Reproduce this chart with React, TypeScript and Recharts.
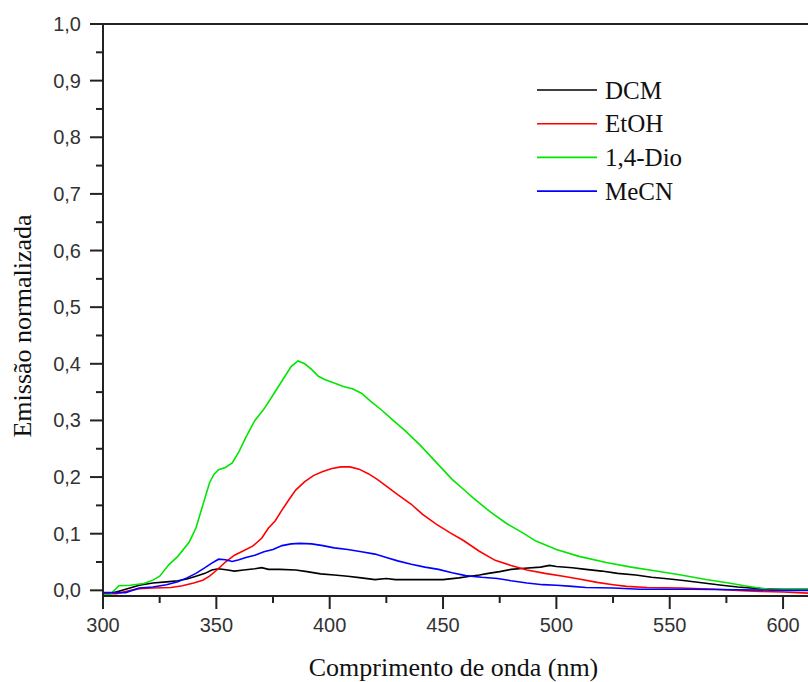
import React from 'react';
import { LineChart, Line, XAxis, YAxis, ReferenceLine, Legend } from 'recharts';

// Emissão normalizada vs comprimento de onda (nm), four solvents
const dcmData = [
  { nm: 300, v: -0.006 }, { nm: 305, v: -0.004 }, { nm: 310, v: 0.002 }, { nm: 316, v: 0.009 },
  { nm: 322, v: 0.013 }, { nm: 328, v: 0.015 }, { nm: 333, v: 0.017 }, { nm: 337, v: 0.02 },
  { nm: 341, v: 0.025 }, { nm: 345, v: 0.03 }, { nm: 348, v: 0.036 }, { nm: 351, v: 0.038 },
  { nm: 355, v: 0.036 }, { nm: 358, v: 0.034 }, { nm: 362, v: 0.036 }, { nm: 367, v: 0.038 },
  { nm: 370, v: 0.04 }, { nm: 373, v: 0.037 }, { nm: 378, v: 0.037 }, { nm: 385, v: 0.036 },
  { nm: 390, v: 0.033 }, { nm: 396, v: 0.029 }, { nm: 402, v: 0.027 }, { nm: 408, v: 0.025 },
  { nm: 414, v: 0.022 }, { nm: 420, v: 0.019 }, { nm: 425, v: 0.021 }, { nm: 429, v: 0.019 },
  { nm: 440, v: 0.019 }, { nm: 450, v: 0.019 }, { nm: 457, v: 0.022 }, { nm: 462, v: 0.025 },
  { nm: 466, v: 0.027 }, { nm: 470, v: 0.03 }, { nm: 475, v: 0.033 }, { nm: 480, v: 0.037 },
  { nm: 486, v: 0.039 }, { nm: 493, v: 0.041 }, { nm: 497, v: 0.044 }, { nm: 500, v: 0.042 },
  { nm: 507, v: 0.04 }, { nm: 513, v: 0.037 }, { nm: 520, v: 0.034 }, { nm: 527, v: 0.03 },
  { nm: 535, v: 0.027 }, { nm: 542, v: 0.023 }, { nm: 550, v: 0.02 }, { nm: 557, v: 0.017 },
  { nm: 565, v: 0.013 }, { nm: 573, v: 0.009 }, { nm: 580, v: 0.006 }, { nm: 590, v: 0.003 },
  { nm: 600, v: 0.002 }, { nm: 611, v: 0.002 },
];

const etohData = [
  { nm: 300, v: -0.006 }, { nm: 306, v: -0.006 }, { nm: 310, v: -0.002 }, { nm: 316, v: 0.003 },
  { nm: 322, v: 0.004 }, { nm: 330, v: 0.005 }, { nm: 335, v: 0.008 }, { nm: 340, v: 0.013 },
  { nm: 344, v: 0.018 }, { nm: 347, v: 0.025 }, { nm: 350, v: 0.035 }, { nm: 354, v: 0.05 },
  { nm: 358, v: 0.062 }, { nm: 362, v: 0.07 }, { nm: 366, v: 0.078 }, { nm: 370, v: 0.092 },
  { nm: 373, v: 0.11 }, { nm: 376, v: 0.123 }, { nm: 379, v: 0.142 }, { nm: 382, v: 0.16 },
  { nm: 385, v: 0.177 }, { nm: 389, v: 0.192 }, { nm: 393, v: 0.203 }, { nm: 397, v: 0.21 },
  { nm: 401, v: 0.215 }, { nm: 405, v: 0.218 }, { nm: 409, v: 0.218 }, { nm: 413, v: 0.214 },
  { nm: 417, v: 0.206 }, { nm: 421, v: 0.196 }, { nm: 425, v: 0.184 }, { nm: 430, v: 0.169 },
  { nm: 436, v: 0.152 }, { nm: 441, v: 0.134 }, { nm: 447, v: 0.117 }, { nm: 453, v: 0.102 },
  { nm: 459, v: 0.088 }, { nm: 466, v: 0.069 }, { nm: 473, v: 0.053 }, { nm: 480, v: 0.044 },
  { nm: 487, v: 0.036 }, { nm: 495, v: 0.03 }, { nm: 503, v: 0.025 }, { nm: 510, v: 0.02 },
  { nm: 518, v: 0.014 }, { nm: 525, v: 0.01 }, { nm: 531, v: 0.007 }, { nm: 540, v: 0.005 },
  { nm: 555, v: 0.004 }, { nm: 570, v: 0.002 }, { nm: 580, v: 0.0 }, { nm: 590, v: -0.002 },
  { nm: 600, v: -0.003 }, { nm: 611, v: -0.005 },
];

const dioData = [
  { nm: 300, v: -0.008 }, { nm: 303, v: -0.008 }, { nm: 305, v: 0.0 }, { nm: 307, v: 0.008 },
  { nm: 312, v: 0.009 }, { nm: 318, v: 0.012 }, { nm: 322, v: 0.018 }, { nm: 325, v: 0.025 },
  { nm: 329, v: 0.045 }, { nm: 333, v: 0.06 }, { nm: 338, v: 0.085 }, { nm: 341, v: 0.11 },
  { nm: 344, v: 0.15 }, { nm: 347, v: 0.19 }, { nm: 349, v: 0.205 }, { nm: 351, v: 0.213 },
  { nm: 354, v: 0.217 }, { nm: 357, v: 0.225 }, { nm: 360, v: 0.245 }, { nm: 363, v: 0.27 },
  { nm: 367, v: 0.3 }, { nm: 371, v: 0.32 }, { nm: 375, v: 0.345 }, { nm: 379, v: 0.37 },
  { nm: 383, v: 0.395 }, { nm: 386, v: 0.405 }, { nm: 389, v: 0.4 }, { nm: 392, v: 0.39 },
  { nm: 395, v: 0.378 }, { nm: 398, v: 0.372 }, { nm: 402, v: 0.366 }, { nm: 406, v: 0.36 },
  { nm: 410, v: 0.356 }, { nm: 414, v: 0.348 }, { nm: 418, v: 0.334 }, { nm: 423, v: 0.318 },
  { nm: 428, v: 0.3 }, { nm: 433, v: 0.283 }, { nm: 440, v: 0.256 }, { nm: 447, v: 0.226 },
  { nm: 454, v: 0.196 }, { nm: 460, v: 0.175 }, { nm: 463, v: 0.164 }, { nm: 471, v: 0.138 },
  { nm: 478, v: 0.118 }, { nm: 485, v: 0.102 }, { nm: 491, v: 0.087 }, { nm: 500, v: 0.072 },
  { nm: 510, v: 0.06 }, { nm: 522, v: 0.049 }, { nm: 533, v: 0.041 }, { nm: 544, v: 0.034 },
  { nm: 555, v: 0.027 }, { nm: 566, v: 0.019 }, { nm: 576, v: 0.013 }, { nm: 583, v: 0.008 },
  { nm: 588, v: 0.005 }, { nm: 594, v: 0.002 }, { nm: 600, v: 0.002 }, { nm: 611, v: 0.002 },
];

const mecnData = [
  { nm: 300, v: -0.004 }, { nm: 310, v: -0.004 }, { nm: 316, v: 0.004 }, { nm: 322, v: 0.006 },
  { nm: 328, v: 0.01 }, { nm: 333, v: 0.015 }, { nm: 337, v: 0.022 }, { nm: 341, v: 0.03 },
  { nm: 345, v: 0.04 }, { nm: 348, v: 0.048 }, { nm: 351, v: 0.055 }, { nm: 354, v: 0.054 },
  { nm: 357, v: 0.051 }, { nm: 360, v: 0.054 }, { nm: 363, v: 0.058 }, { nm: 367, v: 0.062 },
  { nm: 371, v: 0.068 }, { nm: 375, v: 0.072 }, { nm: 379, v: 0.079 }, { nm: 383, v: 0.082 },
  { nm: 387, v: 0.083 }, { nm: 392, v: 0.082 }, { nm: 397, v: 0.079 }, { nm: 402, v: 0.075 },
  { nm: 408, v: 0.072 }, { nm: 414, v: 0.068 }, { nm: 420, v: 0.064 }, { nm: 425, v: 0.058 },
  { nm: 430, v: 0.052 }, { nm: 436, v: 0.046 }, { nm: 442, v: 0.041 }, { nm: 448, v: 0.037 },
  { nm: 454, v: 0.031 }, { nm: 460, v: 0.026 }, { nm: 467, v: 0.023 }, { nm: 474, v: 0.021 },
  { nm: 480, v: 0.017 }, { nm: 487, v: 0.013 }, { nm: 494, v: 0.01 }, { nm: 500, v: 0.009 },
  { nm: 507, v: 0.007 }, { nm: 513, v: 0.005 }, { nm: 525, v: 0.004 }, { nm: 537, v: 0.002 },
  { nm: 560, v: 0.002 }, { nm: 580, v: 0.001 }, { nm: 600, v: 0.0 }, { nm: 611, v: 0.0 },
];

const seriesNames = ['DCM', 'EtOH', '1,4-Dio', 'MeCN'];
const seriesColors = ['#000000', '#ff0000', '#00e600', '#0000ff'];
const seriesData = [dcmData, etohData, dioData, mecnData];

const xTicks = [300, 325, 350, 375, 400, 425, 450, 475, 500, 525, 550, 575, 600];
const yTicks = [0, 0.05, 0.1, 0.15, 0.2, 0.25, 0.3, 0.35, 0.4, 0.45, 0.5, 0.55, 0.6, 0.65, 0.7, 0.75, 0.8, 0.85, 0.9, 0.95, 1.0];

const axisColor = '#222';
const tickFont = '"Liberation Sans", Arial, sans-serif';
const titleFont = '"Liberation Serif", "Times New Roman", serif';

const XTick = (props: any) => {
  const { x, y, payload } = props;
  const major = payload.value % 50 === 0;
  return (
    <g>
      <line x1={x} y1={y} x2={x} y2={y + (major ? 13 : 7)} stroke={axisColor} strokeWidth={2} />
      {major && (
        <text x={x} y={y + 29} textAnchor="middle" dominantBaseline="central"
          style={{ fontFamily: tickFont, fontSize: 20 }} fill="#333">
          {payload.value}
        </text>
      )}
    </g>
  );
};

const YTick = (props: any) => {
  const { x, y, payload } = props;
  const major = Math.round(payload.value * 100) % 10 === 0;
  return (
    <g>
      <line x1={x - (major ? 13 : 7)} y1={y} x2={x} y2={y} stroke={axisColor} strokeWidth={2} />
      {major && (
        <text x={x - 22} y={y} textAnchor="end" dominantBaseline="central"
          style={{ fontFamily: tickFont, fontSize: 20 }} fill="#333">
          {payload.value.toFixed(1).replace('.', ',')}
        </text>
      )}
    </g>
  );
};

const renderLegend = () => (
  <svg width={200} height={140}>
    {seriesNames.map((name, i) => (
      <g key={name}>
        <line x1={0} x2={60} y1={17 + i * 33.7} y2={17 + i * 33.7} stroke={seriesColors[i]} strokeWidth={1.6} />
        <text x={68} y={17 + i * 33.7} dominantBaseline="central"
          style={{ fontFamily: titleFont, fontSize: 25 }} fill="#111">
          {name}
        </text>
      </g>
    ))}
  </svg>
);

export default function App() {
  return (
    <div style={{ position: 'absolute', left: 0, top: 0, width: 808, height: 682, overflow: 'hidden', background: '#fff' }}>
      <LineChart width={808} height={682} margin={{ top: 24, right: 0, bottom: 0, left: 0 }}>
        <XAxis
          type="number"
          dataKey="nm"
          domain={[300, 611]}
          ticks={xTicks}
          allowDataOverflow
          height={86}
          stroke={axisColor}
          strokeWidth={2}
          tickLine={false}
          tickSize={0}
          tickMargin={0}
          tick={<XTick />}
          interval={0}
          label={({ viewBox }: any) => (
            <text x={viewBox.x + viewBox.width / 2 - 2} y={667} textAnchor="middle" dominantBaseline="central"
              style={{ fontFamily: titleFont, fontSize: 26 }} fill="#111">
              Comprimento de onda (nm)
            </text>
          )}
        />
        <YAxis
          type="number"
          domain={[-0.01, 1]}
          ticks={yTicks}
          allowDataOverflow
          width={103}
          stroke={axisColor}
          strokeWidth={2}
          tickLine={false}
          tickSize={0}
          tickMargin={0}
          tick={<YTick />}
          interval={0}
          label={({ viewBox }: any) => (
            <text x={22} y={viewBox.y + viewBox.height / 2 + 16} transform={`rotate(-90 22 ${viewBox.y + viewBox.height / 2 + 16})`}
              textAnchor="middle" dominantBaseline="central" style={{ fontFamily: titleFont, fontSize: 26 }} fill="#111">
              Emissão normalizada
            </text>
          )}
        />
        <ReferenceLine y={1} stroke={axisColor} strokeWidth={2} />
        {seriesData.map((d, i) => (
          <Line
            key={seriesNames[i]}
            data={d}
            dataKey="v"
            name={seriesNames[i]}
            type="linear"
            stroke={seriesColors[i]}
            strokeWidth={1.6}
            dot={false}
            isAnimationActive={false}
          />
        ))}
        <Legend
          layout="vertical"
          align="center"
          verticalAlign="middle"
          content={renderLegend}
          wrapperStyle={{ left: 537, top: 73, width: 200, height: 140 }}
        />
      </LineChart>
    </div>
  );
}
